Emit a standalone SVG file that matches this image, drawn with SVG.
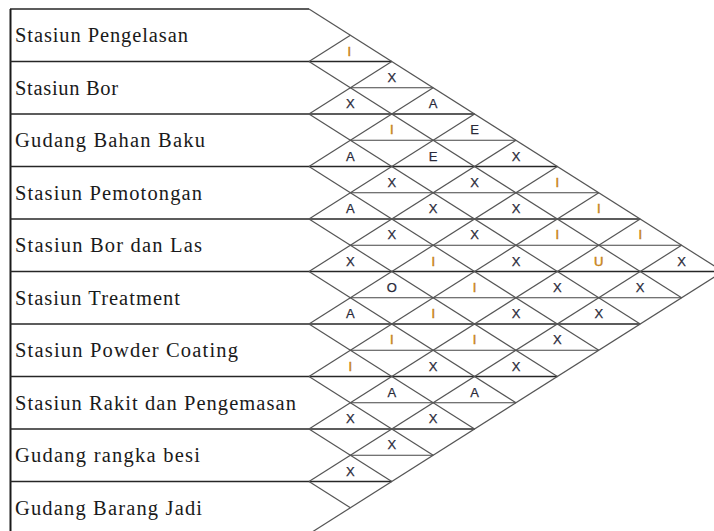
<svg xmlns="http://www.w3.org/2000/svg" width="714" height="531" viewBox="0 0 714 531">
<style>
.bg{fill:#ffffff}
.border{stroke:#1a1a1a;stroke-width:2;fill:none}
.row{stroke:#262626;stroke-width:1.5;fill:none}
.mid{stroke:#444444;stroke-width:1.2;fill:none}
.diag{stroke:#555555;stroke-width:1.2;fill:none}
.lbl{font-family:"Liberation Serif","Times New Roman",serif;font-size:20.5px;fill:#1a1a1a}
.rel{font-family:"Liberation Sans",Arial,sans-serif;font-size:13px;fill:#2a2a3a;text-anchor:middle;stroke:#2a2a3a;stroke-width:0.25}
.ri{fill:#c8841c;stroke:#c8841c;stroke-width:0.5}
</style>
<rect class="bg" x="0" y="0" width="714" height="531"/>
<g id="departments">
<g id="dept-1"><text class="lbl" x="15" y="42" textLength="173" lengthAdjust="spacing">Stasiun Pengelasan</text></g>
<g id="dept-2"><text class="lbl" x="15" y="94.5" textLength="103" lengthAdjust="spacing">Stasiun Bor</text></g>
<g id="dept-3"><text class="lbl" x="15" y="147" textLength="190" lengthAdjust="spacing">Gudang Bahan Baku</text></g>
<g id="dept-4"><text class="lbl" x="15" y="199.5" textLength="187" lengthAdjust="spacing">Stasiun Pemotongan</text></g>
<g id="dept-5"><text class="lbl" x="15" y="252" textLength="187" lengthAdjust="spacing">Stasiun Bor dan Las</text></g>
<g id="dept-6"><text class="lbl" x="15" y="304.5" textLength="165" lengthAdjust="spacing">Stasiun Treatment</text></g>
<g id="dept-7"><text class="lbl" x="15" y="357" textLength="223" lengthAdjust="spacing">Stasiun Powder Coating</text></g>
<g id="dept-8"><text class="lbl" x="15" y="409.5" textLength="281" lengthAdjust="spacing">Stasiun Rakit dan Pengemasan</text></g>
<g id="dept-9"><text class="lbl" x="15" y="462" textLength="185" lengthAdjust="spacing">Gudang rangka besi</text></g>
<g id="dept-10"><text class="lbl" x="15" y="514.5" textLength="187" lengthAdjust="spacing">Gudang Barang Jadi</text></g>
</g>
<g id="connectors">
<line class="border" x1="10.5" y1="9" x2="10.5" y2="531"/>
<line class="row" x1="10" y1="9" x2="309" y2="9"/>
<line class="row" x1="10" y1="61.5" x2="391.8" y2="61.5"/>
<line class="row" x1="10" y1="114" x2="474.6" y2="114"/>
<line class="row" x1="10" y1="166.5" x2="557.4" y2="166.5"/>
<line class="row" x1="10" y1="219" x2="640.2" y2="219"/>
<line class="row" x1="10" y1="271.5" x2="723" y2="271.5"/>
<line class="row" x1="10" y1="324" x2="640.2" y2="324"/>
<line class="row" x1="10" y1="376.5" x2="557.4" y2="376.5"/>
<line class="row" x1="10" y1="429" x2="474.6" y2="429"/>
<line class="row" x1="10" y1="481.5" x2="391.8" y2="481.5"/>
<line class="mid" x1="350.4" y1="87.75" x2="433.2" y2="87.75"/>
<line class="mid" x1="350.4" y1="140.25" x2="516" y2="140.25"/>
<line class="mid" x1="350.4" y1="192.75" x2="598.8" y2="192.75"/>
<line class="mid" x1="350.4" y1="245.25" x2="681.6" y2="245.25"/>
<line class="mid" x1="350.4" y1="297.75" x2="681.6" y2="297.75"/>
<line class="mid" x1="350.4" y1="350.25" x2="598.8" y2="350.25"/>
<line class="mid" x1="350.4" y1="402.75" x2="516" y2="402.75"/>
<line class="mid" x1="350.4" y1="455.25" x2="433.2" y2="455.25"/>
<line class="diag" x1="309" y1="9" x2="723" y2="271.5"/>
<line class="diag" x1="309" y1="61.5" x2="681.6" y2="297.75"/>
<line class="diag" x1="309" y1="114" x2="640.2" y2="324"/>
<line class="diag" x1="309" y1="166.5" x2="598.8" y2="350.25"/>
<line class="diag" x1="309" y1="219" x2="557.4" y2="376.5"/>
<line class="diag" x1="309" y1="271.5" x2="516" y2="402.75"/>
<line class="diag" x1="309" y1="324" x2="474.6" y2="429"/>
<line class="diag" x1="309" y1="376.5" x2="433.2" y2="455.25"/>
<line class="diag" x1="309" y1="429" x2="391.8" y2="481.5"/>
<line class="diag" x1="309" y1="481.5" x2="350.4" y2="507.75"/>
<line class="diag" x1="309" y1="61.5" x2="350.4" y2="35.25"/>
<line class="diag" x1="309" y1="114" x2="391.8" y2="61.5"/>
<line class="diag" x1="309" y1="166.5" x2="433.2" y2="87.75"/>
<line class="diag" x1="309" y1="219" x2="474.6" y2="114"/>
<line class="diag" x1="309" y1="271.5" x2="516" y2="140.25"/>
<line class="diag" x1="309" y1="324" x2="557.4" y2="166.5"/>
<line class="diag" x1="309" y1="376.5" x2="598.8" y2="192.75"/>
<line class="diag" x1="309" y1="429" x2="640.2" y2="219"/>
<line class="diag" x1="309" y1="481.5" x2="681.6" y2="245.25"/>
<line class="diag" x1="309" y1="534" x2="723" y2="271.5"/>
</g>
<g id="relationships">
<text class="rel ri" x="349.4" y="55.5">I</text>
<text class="rel" x="350.4" y="108">X</text>
<text class="rel" x="350.4" y="160.5">A</text>
<text class="rel" x="350.4" y="213">A</text>
<text class="rel" x="350.4" y="265.5">X</text>
<text class="rel" x="350.4" y="318">A</text>
<text class="rel ri" x="350.4" y="370.5">I</text>
<text class="rel" x="350.4" y="423">X</text>
<text class="rel" x="350.4" y="475.5">X</text>
<text class="rel" x="391.8" y="81.75">X</text>
<text class="rel ri" x="391.8" y="134.25">I</text>
<text class="rel" x="391.8" y="186.75">X</text>
<text class="rel" x="391.8" y="239.25">X</text>
<text class="rel" x="391.8" y="291.75">O</text>
<text class="rel ri" x="391.8" y="344.25">I</text>
<text class="rel" x="391.8" y="396.75">A</text>
<text class="rel" x="391.8" y="449.25">X</text>
<text class="rel" x="433.2" y="108">A</text>
<text class="rel" x="433.2" y="160.5">E</text>
<text class="rel" x="433.2" y="213">X</text>
<text class="rel ri" x="433.2" y="265.5">I</text>
<text class="rel ri" x="433.2" y="318">I</text>
<text class="rel" x="433.2" y="370.5">X</text>
<text class="rel" x="433.2" y="423">X</text>
<text class="rel" x="474.6" y="134.25">E</text>
<text class="rel" x="474.6" y="186.75">X</text>
<text class="rel" x="474.6" y="239.25">X</text>
<text class="rel ri" x="474.6" y="291.75">I</text>
<text class="rel ri" x="474.6" y="344.25">I</text>
<text class="rel" x="474.6" y="396.75">A</text>
<text class="rel" x="516" y="160.5">X</text>
<text class="rel" x="516" y="213">X</text>
<text class="rel" x="516" y="265.5">X</text>
<text class="rel" x="516" y="318">X</text>
<text class="rel" x="516" y="370.5">X</text>
<text class="rel ri" x="557.4" y="186.75">I</text>
<text class="rel ri" x="557.4" y="239.25">I</text>
<text class="rel" x="557.4" y="291.75">X</text>
<text class="rel" x="557.4" y="344.25">X</text>
<text class="rel ri" x="598.8" y="213">I</text>
<text class="rel ri" x="598.8" y="265.5">U</text>
<text class="rel" x="598.8" y="318">X</text>
<text class="rel ri" x="640.2" y="239.25">I</text>
<text class="rel" x="640.2" y="291.75">X</text>
<text class="rel" x="681.6" y="265.5">X</text>
</g>
</svg>
